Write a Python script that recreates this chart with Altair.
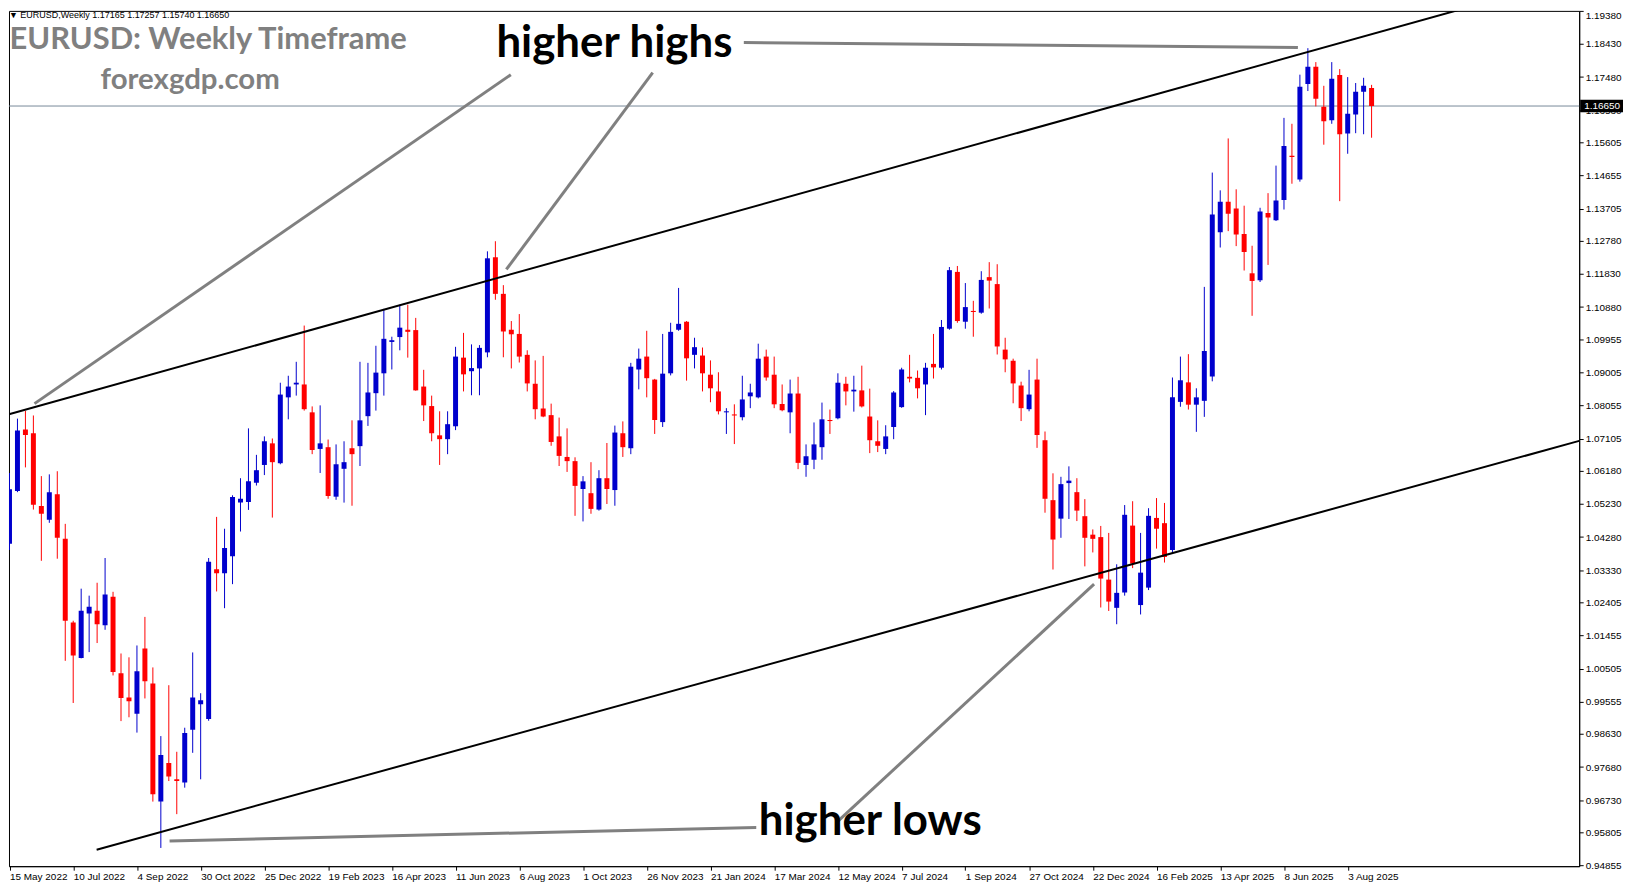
import json
import altair as alt
import numpy as np
import pandas as pd

# ---------------- data (weekly EURUSD candles) ----------------
opens = [1.0409, 1.0560, 1.0737, 1.0726, 1.0517, 1.0478, 1.0551, 1.0423, 1.0183, 1.0081,
         1.0209, 1.0217, 1.0175, 1.0257, 1.0037, 0.9968, 0.9921, 1.0108, 1.0008, 0.9669,
         0.9780, 0.9733, 0.9724, 0.9875, 0.9948, 0.9906, 1.0336, 1.0324, 1.0373, 1.0527,
         1.0529, 1.0584, 1.0635, 1.0697, 1.0640, 1.0829, 1.0866, 1.0866, 1.0786, 1.0681,
         1.0686, 1.0544, 1.0624, 1.0683, 1.0689, 1.0775, 1.0841, 1.0898, 1.0988, 1.1002,
         1.1023, 1.1022, 1.0860, 1.0804, 1.0720, 1.0709, 1.0746, 1.0943, 1.0904, 1.0912,
         1.0958, 1.1231, 1.1126, 1.1023, 1.1011, 1.0951, 1.0868, 1.0797, 1.0778, 1.0717,
         1.0658, 1.0646, 1.0566, 1.0554, 1.0507, 1.0597, 1.0563, 1.0726, 1.0683, 1.0909,
         1.0946, 1.0880, 1.0758, 1.0898, 1.1023, 1.1046, 1.0951, 1.0949, 1.0894, 1.0846,
         1.0786, 1.0780, 1.0772, 1.0832, 1.0829, 1.0946, 1.0894, 1.0810, 1.0786, 1.0840,
         1.0635, 1.0650, 1.0686, 1.0764, 1.0769, 1.0868, 1.0846, 1.0849, 1.0774, 1.0703,
         1.0681, 1.0744, 1.0801, 1.0888, 1.0885, 1.0866, 1.0925, 1.0914, 1.1026, 1.1189,
         1.1046, 1.1077, 1.1072, 1.1174, 1.1154, 1.0966, 1.0934, 1.0863, 1.0795, 1.0880,
         1.0706, 1.0534, 1.0481, 1.0583, 1.0557, 1.0488, 1.0435, 1.0428, 1.0306, 1.0225,
         1.0269, 1.0461, 1.0233, 1.0283, 1.0483, 1.0468, 1.0391, 1.0816, 1.0872, 1.0808,
         1.0819, 1.0889, 1.1303, 1.1390, 1.1371, 1.1298, 1.1185, 1.1165, 1.1358, 1.1337,
         1.1395, 1.1522, 1.1454, 1.1728, 1.1778, 1.1663, 1.1624, 1.1754, 1.1586, 1.1641,
         1.1706, 1.17165]
highs = [1.0612, 1.0768, 1.0790, 1.0777, 1.0603, 1.0608, 1.0617, 1.0466, 1.0188, 1.0280,
         1.0260, 1.0297, 1.0368, 1.0271, 1.0094, 1.0083, 1.0117, 1.0199, 1.0054, 0.9857,
         1.0003, 0.9812, 0.9881, 1.0097, 0.9980, 1.0368, 1.0486, 1.0452, 1.0548, 1.0597,
         1.0740, 1.0664, 1.0717, 1.0711, 1.0871, 1.0891, 1.0931, 1.1035, 1.0803, 1.0806,
         1.0708, 1.0694, 1.0703, 1.0763, 1.0931, 1.0928, 1.0977, 1.1083, 1.1003, 1.1095,
         1.1095, 1.1057, 1.0908, 1.0834, 1.0789, 1.0789, 1.0974, 1.1014, 1.0981, 1.0979,
         1.1248, 1.1277, 1.1151, 1.1048, 1.1068, 1.0964, 1.0935, 1.0948, 1.0811, 1.0771,
         1.0740, 1.0657, 1.0603, 1.0643, 1.0620, 1.0698, 1.0748, 1.0760, 1.0928, 1.0969,
         1.1020, 1.0882, 1.1011, 1.1043, 1.1143, 1.1048, 1.1000, 1.0972, 1.0935, 1.0901,
         1.0798, 1.0809, 1.0891, 1.0868, 1.0983, 1.0966, 1.0946, 1.0866, 1.0880, 1.0888,
         1.0694, 1.0757, 1.0814, 1.0794, 1.0898, 1.0888, 1.0891, 1.0920, 1.0854, 1.0763,
         1.0749, 1.0847, 1.0914, 1.0951, 1.0906, 1.0928, 1.1011, 1.1051, 1.1203, 1.1206,
         1.1157, 1.1106, 1.1191, 1.1217, 1.1211, 1.1000, 1.0940, 1.0874, 1.0908, 1.0940,
         1.0731, 1.0611, 1.0601, 1.0631, 1.0597, 1.0537, 1.0450, 1.0460, 1.0440, 1.0350,
         1.0520, 1.0531, 1.0440, 1.0511, 1.0540, 1.0526, 1.0886, 1.0946, 1.0953, 1.0855,
         1.1146, 1.1474, 1.1423, 1.1572, 1.1426, 1.1379, 1.1264, 1.1373, 1.1415, 1.1494,
         1.1631, 1.1614, 1.1755, 1.1831, 1.1791, 1.1723, 1.1791, 1.1771, 1.1748, 1.1731,
         1.1746, 1.17257]
lows = [1.0391, 1.0557, 1.0628, 1.0507, 1.0360, 1.0469, 1.0366, 1.0073, 0.9952, 1.0080,
        1.0098, 1.0124, 1.0162, 1.0031, 0.9900, 0.9911, 0.9867, 0.9965, 0.9669, 0.9536,
        0.9728, 0.9633, 0.9709, 0.9809, 0.9733, 0.9901, 1.0272, 1.0224, 1.0293, 1.0444,
        1.0506, 1.0576, 1.0606, 1.0484, 1.0637, 1.0766, 1.0834, 1.0791, 1.0666, 1.0612,
        1.0538, 1.0535, 1.0527, 1.0518, 1.0632, 1.0747, 1.0791, 1.0834, 1.0909, 1.0964,
        1.0943, 1.0848, 1.0761, 1.0703, 1.0635, 1.0666, 1.0735, 1.0846, 1.0835, 1.0835,
        1.0944, 1.1109, 1.0944, 1.0912, 1.0929, 1.0846, 1.0766, 1.0772, 1.0690, 1.0632,
        1.0615, 1.0489, 1.0473, 1.0495, 1.0504, 1.0523, 1.0518, 1.0658, 1.0666, 1.0852,
        1.0829, 1.0724, 1.0744, 1.0892, 1.1020, 1.0877, 1.0912, 1.0846, 1.0815, 1.0780,
        1.0724, 1.0695, 1.0763, 1.0798, 1.0826, 1.0877, 1.0798, 1.0789, 1.0726, 1.0623,
        1.0601, 1.0623, 1.0650, 1.0724, 1.0766, 1.0806, 1.0788, 1.0800, 1.0669, 1.0672,
        1.0666, 1.0709, 1.0799, 1.0872, 1.0826, 1.0778, 1.0883, 1.0909, 1.1023, 1.1043,
        1.1026, 1.1003, 1.1069, 1.1084, 1.0952, 1.0901, 1.0812, 1.0761, 1.0789, 1.0684,
        1.0498, 1.0335, 1.0426, 1.0480, 1.0474, 1.0344, 1.0384, 1.0226, 1.0216, 1.0178,
        1.0260, 1.0339, 1.0206, 1.0276, 1.0395, 1.0355, 1.0382, 1.0802, 1.0794, 1.0730,
        1.0773, 1.0875, 1.1259, 1.1306, 1.1263, 1.1193, 1.1063, 1.1160, 1.1209, 1.1335,
        1.1368, 1.1442, 1.1448, 1.1708, 1.1664, 1.1554, 1.1614, 1.1392, 1.1528, 1.1587,
        1.1584, 1.15740]
closes = [1.0565, 1.0734, 1.0721, 1.0521, 1.0495, 1.0557, 1.0426, 1.0188, 1.0088, 1.0217,
          1.0228, 1.0178, 1.0263, 1.0041, 0.9966, 0.9957, 1.0043, 1.0014, 0.9690, 0.9803,
          0.9741, 0.9728, 0.9866, 0.9968, 0.9960, 1.0357, 1.0324, 1.0397, 1.0543, 1.0538,
          1.0588, 1.0620, 1.0703, 1.0643, 1.0837, 1.0860, 1.0871, 1.0795, 1.0678, 1.0697,
          1.0546, 1.0637, 1.0643, 1.0666, 1.0763, 1.0843, 1.0900, 1.0997, 1.0993, 1.1029,
          1.1017, 1.0849, 1.0806, 1.0726, 1.0709, 1.0752, 1.0946, 1.0895, 1.0913, 1.0971,
          1.1228, 1.1126, 1.1018, 1.1010, 1.0946, 1.0869, 1.0795, 1.0774, 1.0701, 1.0661,
          1.0646, 1.0575, 1.0588, 1.0509, 1.0597, 1.0566, 1.0728, 1.0686, 1.0917, 1.0940,
          1.0884, 1.0764, 1.0897, 1.1017, 1.1040, 1.0941, 1.0973, 1.0898, 1.0855, 1.0789,
          1.0789, 1.0777, 1.0823, 1.0843, 1.0940, 1.0886, 1.0809, 1.0792, 1.0840, 1.0641,
          1.0660, 1.0694, 1.0766, 1.0761, 1.0871, 1.0846, 1.0851, 1.0803, 1.0706, 1.0690,
          1.0717, 1.0843, 1.0909, 1.0883, 1.0855, 1.0914, 1.0915, 1.1031, 1.1194, 1.1048,
          1.1088, 1.1074, 1.1166, 1.1164, 1.0975, 1.0938, 1.0869, 1.0798, 1.0837, 1.0721,
          1.0538, 1.0421, 1.0580, 1.0590, 1.0504, 1.0426, 1.0423, 1.0309, 1.0243, 1.0268,
          1.0492, 1.0352, 1.0326, 1.0489, 1.0452, 1.0371, 1.0829, 1.0878, 1.0808, 1.0829,
          1.0962, 1.1354, 1.1390, 1.1356, 1.1296, 1.1246, 1.1163, 1.1362, 1.1345, 1.1394,
          1.1550, 1.1519, 1.1720, 1.1778, 1.1686, 1.1621, 1.1743, 1.1584, 1.1643, 1.1706,
          1.1723, 1.16650]

date_labels = ['15 May 2022', '10 Jul 2022', '4 Sep 2022', '30 Oct 2022', '25 Dec 2022',
               '19 Feb 2023', '16 Apr 2023', '11 Jun 2023', '6 Aug 2023', '1 Oct 2023',
               '26 Nov 2023', '21 Jan 2024', '17 Mar 2024', '12 May 2024', '7 Jul 2024',
               '1 Sep 2024', '27 Oct 2024', '22 Dec 2024', '16 Feb 2025', '13 Apr 2025',
               '8 Jun 2025', '3 Aug 2025']
price_ticks = [1.19380, 1.18430, 1.17480, 1.16530, 1.15605, 1.14655, 1.13705, 1.12780,
               1.11830, 1.10880, 1.09955, 1.09005, 1.08055, 1.07105, 1.06180, 1.05230,
               1.04280, 1.03330, 1.02405, 1.01455, 1.00505, 0.99555, 0.98630, 0.97680,
               0.96730, 0.95805, 0.94855]
last_price = 1.16650

# trend-channel anchor points (week index, price)
upper_anchor_t = [0, 163]
upper_anchor_p = [1.0781, 1.1820]
lower_anchor_t = [10.94, 173.25]
lower_anchor_p = [0.9531, 1.0554]

# annotation pointer segments (week index, price) -> (week index, price)
pointer_t1 = [62.94, 80.75, 92.19, 93.75, 103.875]
pointer_p1 = [1.1755, 1.1761, 1.1847, 0.9595, 0.9610]
pointer_t2 = [3.14, 62.375, 161.75, 20.1, 136.16]
pointer_p2 = [1.0811, 1.1196, 1.1833, 0.9556, 1.0293]

notes = ['higher highs', 'higher lows']
note_t = [75.94, 108.06]
note_p = [1.18057, 0.95742]

# ---------------- build tables ----------------
df = pd.DataFrame({'t': np.arange(len(opens)), 'open': opens, 'high': highs,
                   'low': lows, 'close': closes})
df['dir'] = np.where(df['close'] >= df['open'], 'up', 'down')

X_MIN, X_MAX = -0.0625, 197.0625
Y_MIN, Y_MAX = 0.94837, 1.1938


def ray(ts, ps, t_start, t_end):
    slope = (ps[1] - ps[0]) / (ts[1] - ts[0])
    return [t_start, t_end], [ps[0] + slope * (t_start - ts[0]), ps[0] + slope * (t_end - ts[0])]


ut, up = ray(upper_anchor_t, upper_anchor_p, X_MIN, X_MAX)
lt, lp = ray(lower_anchor_t, lower_anchor_p, lower_anchor_t[0], X_MAX)
channel = pd.DataFrame({'t': ut + lt, 'p': up + lp, 'name': ['upper'] * 2 + ['lower'] * 2})
pointers = pd.DataFrame({'t1': pointer_t1, 'p1': pointer_p1, 't2': pointer_t2, 'p2': pointer_p2})
notes_df = pd.DataFrame({'label': notes, 't': note_t, 'p': note_p})
last_df = pd.DataFrame({'p': [last_price], 'lab': [f'{last_price:.5f}'],
                        'lo': [last_price - 0.0018], 'hi': [last_price + 0.0018]})

xs = alt.Scale(domain=[X_MIN, X_MAX], nice=False, zero=False)
ys = alt.Scale(domain=[Y_MIN, Y_MAX], nice=False, zero=False)
col = alt.Color('dir:N', scale=alt.Scale(domain=['up', 'down'], range=['#0000CD', '#FF0000']),
                legend=None)

x_axis = alt.Axis(values=list(range(0, 8 * len(date_labels), 8)),
                  labelExpr=json.dumps(date_labels) + '[round(datum.value / 8)]',
                  labelAlign='left', labelBaseline='top', tickSize=4, labelPadding=1,
                  grid=False, title=None, labelOverlap=False, labelFlush=False,
                  labelFont='Liberation Sans', labelFontSize=10, labelColor='black',
                  domainColor='black', tickColor='black')
y_axis = alt.Axis(orient='right', values=price_ticks, format='.5f', grid=False, tickSize=4,
                  labelPadding=2, labelFont='Liberation Sans', labelFontSize=10,
                  labelColor='black', domainColor='black', tickColor='black', title=None,
                  labelOverlap=False,
                  labelBaseline=alt.condition('datum.value > 1.19', alt.value('top'),
                                              alt.value('middle')))


def X(field):
    return alt.X(field, scale=xs, axis=x_axis)


def Y(field):
    return alt.Y(field, scale=ys, axis=y_axis)


bid = alt.Chart(last_df).mark_rule(color='#778899', strokeWidth=1).encode(y=Y('p:Q'))

wicks = alt.Chart(df).mark_rule(strokeWidth=1, clip=True).encode(
    x=X('t:Q'), y=Y('low:Q'), y2='high:Q', color=col)

bodies = alt.Chart(df).mark_rule(strokeWidth=5, clip=True).encode(
    x=X('t:Q'), y=Y('open:Q'), y2='close:Q', color=col)

lines = alt.Chart(channel).mark_line(color='black', strokeWidth=2, clip=True).encode(
    x=X('t:Q'), y=Y('p:Q'), detail='name:N')

ptr = alt.Chart(pointers).mark_rule(color='#808080', strokeWidth=3, clip=True).encode(
    x=X('t1:Q'), y=Y('p1:Q'), x2='t2:Q', y2='p2:Q')

note_text = alt.Chart(notes_df).mark_text(font='Lato', fontWeight='bold', fontSize=44,
                                          color='black', align='center',
                                          baseline='alphabetic').encode(
    x=X('t:Q'), y=Y('p:Q'), text='label:N')

title1 = alt.Chart(pd.DataFrame({'s': ['EURUSD: Weekly Timeframe']})).mark_text(
    font='Lato', fontWeight='bold', fontSize=31, color='#808080', align='center',
    baseline='alphabetic').encode(x=alt.value(200), y=alt.value(38), text='s:N')
title2 = alt.Chart(pd.DataFrame({'s': ['forexgdp.com']})).mark_text(
    font='Lato', fontWeight='bold', fontSize=29.5, color='#808080', align='center',
    baseline='alphabetic').encode(x=alt.value(182), y=alt.value(78), text='s:N')
header = alt.Chart(pd.DataFrame({'s': ['\u25BC EURUSD,Weekly  1.17165 1.17257 1.15740 1.16650']})).mark_text(
    font='Liberation Sans, DejaVu Sans', fontSize=9, color='black', align='left',
    baseline='top').encode(x=alt.value(0), y=alt.value(0), text='s:N')

box = alt.Chart(last_df).mark_rect(color='black').encode(
    x=alt.value(1578), x2=alt.value(1621), y=Y('hi:Q'), y2='lo:Q')
box_text = alt.Chart(last_df).mark_text(font='Liberation Sans', fontSize=10, color='white',
                                        align='left', baseline='middle').encode(
    x=alt.value(1582), y=Y('p:Q'), text='lab:N')

chart = alt.layer(bid, wicks, bodies, lines, ptr, note_text, title1, title2, header,
                  box, box_text).properties(
    width=1577, height=859, padding=0, background='white'
).configure_view(stroke='black', strokeWidth=1)

chart.save('out.html', embed_options={'renderer': 'svg', 'actions': False})
